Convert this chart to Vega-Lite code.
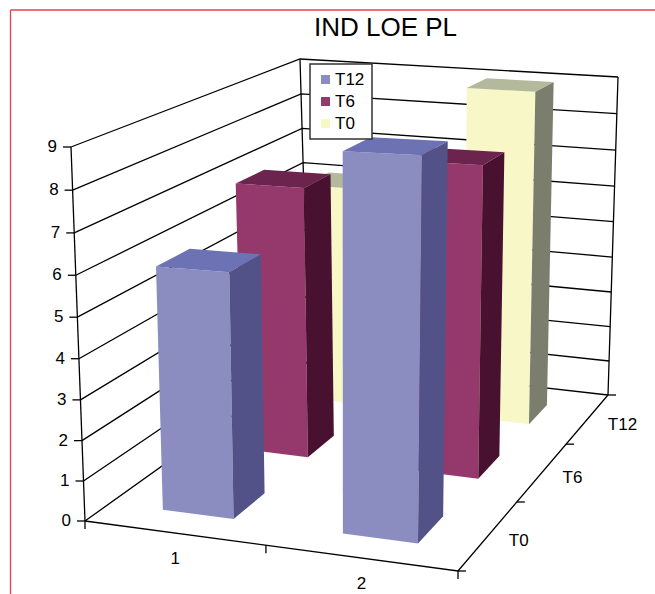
{
  "$schema": "https://vega.github.io/schema/vega-lite/v6.json",
  "width": 655,
  "height": 594,
  "padding": 0,
  "autosize": {"type": "none"},
  "background": "white",
  "view": {"stroke": null},
  "config": {"legend": {"strokeWidth": 1.5}},
  "title": {"text": "IND LOE PL", "orient": "top", "anchor": "start", "frame": "group", "dx": 314, "dy": 45, "font": "Liberation Sans", "fontSize": 26, "fontWeight": "normal", "color": "#000"},
  "datasets": {
    "bars": [
      {"category": 1, "series": "T0", "value": 6.1},
      {"category": 2, "series": "T0", "value": 9.0},
      {"category": 1, "series": "T6", "value": 7.05},
      {"category": 2, "series": "T6", "value": 7.9},
      {"category": 1, "series": "T12", "value": 6.0},
      {"category": 2, "series": "T12", "value": 8.95}
    ],
    "levels": [{"w": 0}, {"w": 1}, {"w": 2}, {"w": 3}, {"w": 4}, {"w": 5}, {"w": 6}, {"w": 7}, {"w": 8}, {"w": 9}],
    "edges": [
      {"edge": "frontLeft", "i": 0, "u": 0, "v": 0, "w": 0},
      {"edge": "frontLeft", "i": 1, "u": 0, "v": 0, "w": 9},
      {"edge": "backLeft", "i": 0, "u": 0, "v": 1, "w": 0},
      {"edge": "backLeft", "i": 1, "u": 0, "v": 1, "w": 9},
      {"edge": "backRight", "i": 0, "u": 1, "v": 1, "w": 0},
      {"edge": "backRight", "i": 1, "u": 1, "v": 1, "w": 9},
      {"edge": "floor", "i": 0, "u": 0, "v": 0, "w": 0},
      {"edge": "floor", "i": 1, "u": 1, "v": 0, "w": 0},
      {"edge": "floor", "i": 2, "u": 1, "v": 1, "w": 0}
    ],
    "ticks": [
      {"u": 0, "v": 0, "w": 0, "dir": "left"}, {"u": 0, "v": 0, "w": 1, "dir": "left"},
      {"u": 0, "v": 0, "w": 2, "dir": "left"}, {"u": 0, "v": 0, "w": 3, "dir": "left"},
      {"u": 0, "v": 0, "w": 4, "dir": "left"}, {"u": 0, "v": 0, "w": 5, "dir": "left"},
      {"u": 0, "v": 0, "w": 6, "dir": "left"}, {"u": 0, "v": 0, "w": 7, "dir": "left"},
      {"u": 0, "v": 0, "w": 8, "dir": "left"}, {"u": 0, "v": 0, "w": 9, "dir": "left"},
      {"u": 0, "v": 0, "w": 0, "dir": "down"}, {"u": 0.5, "v": 0, "w": 0, "dir": "down"},
      {"u": 1, "v": 0, "w": 0, "dir": "down"}, {"u": 1, "v": 0, "w": 0, "dir": "right"},
      {"u": 1, "v": 0.3333, "w": 0, "dir": "right"}, {"u": 1, "v": 0.6667, "w": 0, "dir": "right"},
      {"u": 1, "v": 1, "w": 0, "dir": "right"}
    ],
    "labels": [
      {"axis": "value", "label": "0", "u": 0, "v": 0, "w": 0}, {"axis": "value", "label": "1", "u": 0, "v": 0, "w": 1},
      {"axis": "value", "label": "2", "u": 0, "v": 0, "w": 2}, {"axis": "value", "label": "3", "u": 0, "v": 0, "w": 3},
      {"axis": "value", "label": "4", "u": 0, "v": 0, "w": 4}, {"axis": "value", "label": "5", "u": 0, "v": 0, "w": 5},
      {"axis": "value", "label": "6", "u": 0, "v": 0, "w": 6}, {"axis": "value", "label": "7", "u": 0, "v": 0, "w": 7},
      {"axis": "value", "label": "8", "u": 0, "v": 0, "w": 8}, {"axis": "value", "label": "9", "u": 0, "v": 0, "w": 9},
      {"axis": "category", "label": "1", "u": 0.25, "v": 0, "w": 0}, {"axis": "category", "label": "2", "u": 0.75, "v": 0, "w": 0},
      {"axis": "series", "label": "T0", "u": 1, "v": 0.1667, "w": 0}, {"axis": "series", "label": "T6", "u": 1, "v": 0.5, "w": 0},
      {"axis": "series", "label": "T12", "u": 1, "v": 0.8333, "w": 0}
    ],
    "frame": [{"side": "top"}]
  },
  "layer": [
    {
      "data": {"name": "frame"},
      "mark": {"type": "rule", "color": "#E9414F", "strokeWidth": 1.3},
      "encoding": {
        "x": {"datum": 10.5, "type": "quantitative", "scale": {"domain": [0, 655], "nice": false, "zero": false}, "axis": null},
        "y": {"datum": 10, "type": "quantitative", "scale": {"domain": [594, 0], "nice": false, "zero": false}, "axis": null},
        "y2": {"datum": 594}
      }
    },
    {
      "data": {"name": "frame"},
      "mark": {"type": "rule", "color": "#E9414F", "strokeWidth": 1.3},
      "encoding": {
        "x": {"datum": 10.5, "type": "quantitative", "axis": null},
        "x2": {"datum": 655},
        "y": {"datum": 10, "type": "quantitative", "axis": null}
      }
    },
    {
      "data": {"name": "levels"},
      "transform": [
        {"calculate": "[0,1,2]", "as": "i"},
        {"flatten": ["i"]},
        {"calculate": "datum.i == 2 ? 1 : 0", "as": "u"},
        {"calculate": "datum.i == 0 ? 0 : 1", "as": "v"},
        {"calculate": "0.942*datum.u/(1-0.058*datum.u)", "as": "up"},
        {"calculate": "1.29*datum.v/(1+0.29*datum.v)", "as": "vp"},
        {"calculate": "0.958*(datum.w/9)/(1-0.042*(datum.w/9))", "as": "t"},
        {"calculate": "(1-datum.vp)*((1-datum.up)*(85-14*datum.t)+datum.up*(458+7*datum.t))+datum.vp*((1-datum.up)*(309-9*datum.t)+datum.up*(608+10*datum.t))", "as": "px"},
        {"calculate": "(1-datum.vp)*((1-datum.up)*(521-374*datum.t)+datum.up*(571-405*datum.t))+datum.vp*((1-datum.up)*(361-302*datum.t)+datum.up*(395-318*datum.t))", "as": "py"}
      ],
      "mark": {"type": "line", "color": "#000", "strokeWidth": 1.3},
      "encoding": {
        "x": {"field": "px", "type": "quantitative", "axis": null},
        "y": {"field": "py", "type": "quantitative", "axis": null},
        "order": {"field": "i"},
        "detail": {"field": "w"}
      }
    },
    {
      "data": {"name": "edges"},
      "transform": [
        {"calculate": "0.942*datum.u/(1-0.058*datum.u)", "as": "up"},
        {"calculate": "1.29*datum.v/(1+0.29*datum.v)", "as": "vp"},
        {"calculate": "0.958*(datum.w/9)/(1-0.042*(datum.w/9))", "as": "t"},
        {"calculate": "(1-datum.vp)*((1-datum.up)*(85-14*datum.t)+datum.up*(458+7*datum.t))+datum.vp*((1-datum.up)*(309-9*datum.t)+datum.up*(608+10*datum.t))", "as": "px"},
        {"calculate": "(1-datum.vp)*((1-datum.up)*(521-374*datum.t)+datum.up*(571-405*datum.t))+datum.vp*((1-datum.up)*(361-302*datum.t)+datum.up*(395-318*datum.t))", "as": "py"}
      ],
      "mark": {"type": "line", "color": "#000", "strokeWidth": 1.3},
      "encoding": {
        "x": {"field": "px", "type": "quantitative", "axis": null},
        "y": {"field": "py", "type": "quantitative", "axis": null},
        "order": {"field": "i"},
        "detail": {"field": "edge"}
      }
    },
    {
      "data": {"name": "ticks"},
      "transform": [
        {"calculate": "0.942*datum.u/(1-0.058*datum.u)", "as": "up"},
        {"calculate": "1.29*datum.v/(1+0.29*datum.v)", "as": "vp"},
        {"calculate": "0.958*(datum.w/9)/(1-0.042*(datum.w/9))", "as": "t"},
        {"calculate": "(1-datum.vp)*((1-datum.up)*(85-14*datum.t)+datum.up*(458+7*datum.t))+datum.vp*((1-datum.up)*(309-9*datum.t)+datum.up*(608+10*datum.t))", "as": "px"},
        {"calculate": "(1-datum.vp)*((1-datum.up)*(521-374*datum.t)+datum.up*(571-405*datum.t))+datum.vp*((1-datum.up)*(361-302*datum.t)+datum.up*(395-318*datum.t))", "as": "py"},
        {"calculate": "datum.px + (datum.dir == 'left' ? -8 : datum.dir == 'right' ? 8 : 0)", "as": "px2"},
        {"calculate": "datum.py + (datum.dir == 'down' ? 8 : 0)", "as": "py2"}
      ],
      "mark": {"type": "rule", "color": "#000", "strokeWidth": 1.3},
      "encoding": {
        "x": {"field": "px", "type": "quantitative", "axis": null},
        "x2": {"field": "px2"},
        "y": {"field": "py", "type": "quantitative", "axis": null},
        "y2": {"field": "py2"}
      }
    },
    {
      "data": {"name": "labels"},
      "transform": [
        {"calculate": "0.942*datum.u/(1-0.058*datum.u)", "as": "up"},
        {"calculate": "1.29*datum.v/(1+0.29*datum.v)", "as": "vp"},
        {"calculate": "0.958*(datum.w/9)/(1-0.042*(datum.w/9))", "as": "t"},
        {"calculate": "(1-datum.vp)*((1-datum.up)*(85-14*datum.t)+datum.up*(458+7*datum.t))+datum.vp*((1-datum.up)*(309-9*datum.t)+datum.up*(608+10*datum.t))", "as": "px"},
        {"calculate": "(1-datum.vp)*((1-datum.up)*(521-374*datum.t)+datum.up*(571-405*datum.t))+datum.vp*((1-datum.up)*(361-302*datum.t)+datum.up*(395-318*datum.t))", "as": "py"},
        {"filter": "datum.axis == 'value'"}
      ],
      "mark": {"type": "text", "font": "Liberation Sans", "fontSize": 17, "align": "right", "baseline": "middle", "dx": -14, "color": "#000"},
      "encoding": {
        "x": {"field": "px", "type": "quantitative", "axis": null},
        "y": {"field": "py", "type": "quantitative", "axis": null},
        "text": {"field": "label"}
      }
    },
    {
      "data": {"name": "labels"},
      "transform": [
        {"calculate": "0.942*datum.u/(1-0.058*datum.u)", "as": "up"},
        {"calculate": "1.29*datum.v/(1+0.29*datum.v)", "as": "vp"},
        {"calculate": "0.958*(datum.w/9)/(1-0.042*(datum.w/9))", "as": "t"},
        {"calculate": "(1-datum.vp)*((1-datum.up)*(85-14*datum.t)+datum.up*(458+7*datum.t))+datum.vp*((1-datum.up)*(309-9*datum.t)+datum.up*(608+10*datum.t))", "as": "px"},
        {"calculate": "(1-datum.vp)*((1-datum.up)*(521-374*datum.t)+datum.up*(571-405*datum.t))+datum.vp*((1-datum.up)*(361-302*datum.t)+datum.up*(395-318*datum.t))", "as": "py"},
        {"filter": "datum.axis == 'category'"}
      ],
      "mark": {"type": "text", "font": "Liberation Sans", "fontSize": 17, "align": "center", "baseline": "middle", "dx": 1, "dy": 26, "color": "#000"},
      "encoding": {
        "x": {"field": "px", "type": "quantitative", "axis": null},
        "y": {"field": "py", "type": "quantitative", "axis": null},
        "text": {"field": "label"}
      }
    },
    {
      "data": {"name": "labels"},
      "transform": [
        {"calculate": "0.942*datum.u/(1-0.058*datum.u)", "as": "up"},
        {"calculate": "1.29*datum.v/(1+0.29*datum.v)", "as": "vp"},
        {"calculate": "0.958*(datum.w/9)/(1-0.042*(datum.w/9))", "as": "t"},
        {"calculate": "(1-datum.vp)*((1-datum.up)*(85-14*datum.t)+datum.up*(458+7*datum.t))+datum.vp*((1-datum.up)*(309-9*datum.t)+datum.up*(608+10*datum.t))", "as": "px"},
        {"calculate": "(1-datum.vp)*((1-datum.up)*(521-374*datum.t)+datum.up*(571-405*datum.t))+datum.vp*((1-datum.up)*(361-302*datum.t)+datum.up*(395-318*datum.t))", "as": "py"},
        {"filter": "datum.axis == 'series'"}
      ],
      "mark": {"type": "text", "font": "Liberation Sans", "fontSize": 17, "align": "left", "baseline": "middle", "dx": 20, "dy": 6, "color": "#000"},
      "encoding": {
        "x": {"field": "px", "type": "quantitative", "axis": null},
        "y": {"field": "py", "type": "quantitative", "axis": null},
        "text": {"field": "label"}
      }
    },
    {
      "data": {"name": "bars"},
      "transform": [
        {"calculate": "['front','side','top']", "as": "face"},
        {"flatten": ["face"]},
        {"calculate": "[0,1,2,3]", "as": "corner"},
        {"flatten": ["corner"]},
        {"calculate": "datum.series == 'T12' ? 0 : datum.series == 'T6' ? 1 : 2", "as": "s"},
        {"calculate": "(datum.category-0.5)/2 + 0.001", "as": "uc"},
        {"calculate": "(datum.s+0.5)/3 - 0.01", "as": "vc"},
        {"calculate": "datum.face == 'side' ? datum.uc+0.1 : (datum.corner == 0 || datum.corner == 3 ? datum.uc-0.1 : datum.uc+0.1)", "as": "u"},
        {"calculate": "datum.face == 'front' ? datum.vc-0.066 : datum.face == 'side' ? (datum.corner == 0 || datum.corner == 3 ? datum.vc-0.066 : datum.vc+0.066) : (datum.corner < 2 ? datum.vc-0.066 : datum.vc+0.066)", "as": "v"},
        {"calculate": "datum.face == 'top' ? datum.value : (datum.corner < 2 ? 0 : datum.value)", "as": "w"},
        {"calculate": "0.942*datum.u/(1-0.058*datum.u)", "as": "up"},
        {"calculate": "1.29*datum.v/(1+0.29*datum.v)", "as": "vp"},
        {"calculate": "0.958*(datum.w/9)/(1-0.042*(datum.w/9))", "as": "t"},
        {"calculate": "(1-datum.vp)*((1-datum.up)*(85-14*datum.t)+datum.up*(458+7*datum.t))+datum.vp*((1-datum.up)*(309-9*datum.t)+datum.up*(608+10*datum.t))", "as": "px"},
        {"calculate": "(1-datum.vp)*((1-datum.up)*(521-374*datum.t)+datum.up*(571-405*datum.t))+datum.vp*((1-datum.up)*(361-302*datum.t)+datum.up*(395-318*datum.t))", "as": "py"},
        {"calculate": "datum.series + '-' + datum.face", "as": "shade"},
        {"calculate": "datum.category + datum.shade", "as": "polygon"}
      ],
      "mark": {"type": "line", "strokeWidth": 0, "filled": true},
      "encoding": {
        "x": {"field": "px", "type": "quantitative", "axis": null},
        "y": {"field": "py", "type": "quantitative", "axis": null},
        "order": {"field": "corner"},
        "detail": {"field": "polygon"},
        "fill": {
          "field": "shade",
          "type": "nominal",
          "legend": null,
          "scale": {
            "domain": ["T0-front", "T0-side", "T0-top", "T6-front", "T6-side", "T6-top", "T12-front", "T12-side", "T12-top"],
            "range": ["#F8F7C8", "#7B7E6C", "#B5B99B", "#95396D", "#47112F", "#6C234D", "#8B8DC1", "#525288", "#6C72B4"]
          }
        }
      }
    },
    {
      "data": {"name": "bars"},
      "mark": {"type": "square", "size": 0, "opacity": 1},
      "encoding": {
        "fill": {
          "field": "series",
          "type": "nominal",
          "scale": {"domain": ["T12", "T6", "T0"], "range": ["#8B8DC1", "#95396D", "#F8F7C8"]},
          "legend": {
            "title": null,
            "orient": "none",
            "legendX": 310,
            "legendY": 64,
            "direction": "vertical",
            "fillColor": "white",
            "strokeColor": "#333333",
            "padding": 7,
            "symbolType": "square",
            "symbolSize": 81,
            "symbolStrokeWidth": 0,
            "symbolOpacity": 1,
            "labelFont": "Liberation Sans",
            "labelFontSize": 17,
            "labelColor": "#000",
            "labelOffset": 1,
            "rowPadding": 4
          }
        }
      }
    }
  ],
  "resolve": {"scale": {"fill": "independent"}}
}
